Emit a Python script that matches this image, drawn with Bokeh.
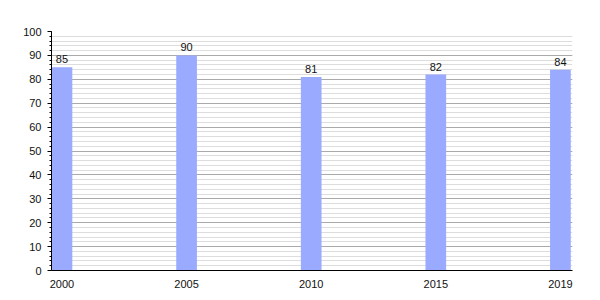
from bokeh.plotting import figure
from bokeh.models import ColumnDataSource, FixedTicker, Range1d
from bokeh.core.properties import value
from bokeh.embed import file_html
from bokeh.resources import INLINE

years = ["2000", "2005", "2010", "2015", "2019"]
values = [85, 90, 81, 82, 84]
y_ticks = list(range(0, 101, 10))

xs = list(range(len(years)))
src = ColumnDataSource(dict(x=xs, top=values, label=[str(v) for v in values]))

p = figure(width=600, height=300, output_backend="svg", toolbar_location=None,
           x_range=Range1d(-0.084, 4.097), y_range=Range1d(0, 100),
           min_border_left=51, min_border_right=28, min_border_top=31, min_border_bottom=30)
p.frame_width = 521
p.frame_height = 239
p.outline_line_color = None
p.background_fill_color = "white"
p.border_fill_color = "white"

p.vbar(x="x", top="top", width=0.166, bottom=0, source=src,
       fill_color="#99aaff", line_color=None)
p.text(x="x", y="top", text="label", source=src, text_align="center",
       text_baseline="bottom", y_offset=-4, text_font_size="11px",
       text_font=value("Liberation Sans"), text_color="#111111")

# x axis
p.xaxis.ticker = FixedTicker(ticks=xs)
p.xaxis.major_label_overrides = {i: y for i, y in enumerate(years)}
p.xaxis.major_tick_line_color = None
p.xaxis.minor_tick_line_color = None
p.xaxis.axis_line_color = "black"
p.xaxis.major_label_standoff = 3
p.xaxis.major_label_text_font = "Liberation Sans"
p.xaxis.major_label_text_font_size = "11px"
p.xaxis.major_label_text_color = "#111111"
p.xgrid.grid_line_color = None

# y axis
p.yaxis.ticker = FixedTicker(ticks=y_ticks, minor_ticks=list(range(0, 101, 2)))
p.yaxis.axis_line_color = "black"
p.yaxis.major_tick_line_color = "black"
p.yaxis.minor_tick_line_color = "black"
p.yaxis.major_tick_out = 4
p.yaxis.major_tick_in = 0
p.yaxis.minor_tick_out = 2
p.yaxis.minor_tick_in = 0
p.yaxis.major_label_standoff = 6
p.yaxis.major_label_text_font = "Liberation Sans"
p.yaxis.major_label_text_font_size = "11px"
p.yaxis.major_label_text_color = "#111111"
p.ygrid.grid_line_color = "#aaaaaa"
p.ygrid.minor_grid_line_color = "#dddddd"

open("out.html", "w").write(file_html(p, INLINE))
